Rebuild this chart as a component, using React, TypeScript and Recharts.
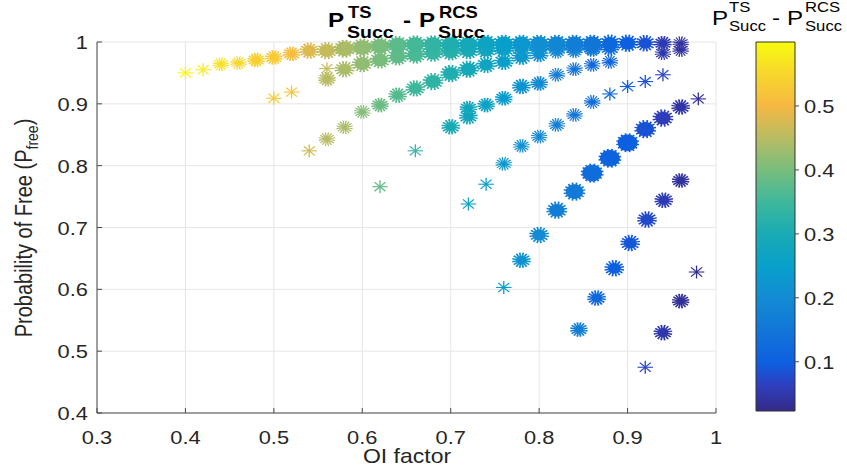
import React from 'react';
import { ScatterChart, Scatter, XAxis, YAxis, CartesianGrid, BarChart, Bar } from 'recharts';

// [OI factor, P_free, P_succ(TS) - P_succ(RCS), overlapping samples]
type Pt = [number, number, number, number];

const xTicks = [0.3, 0.4, 0.5, 0.6, 0.7, 0.8, 0.9, 1];
const yTicks = [0.4, 0.5, 0.6, 0.7, 0.8, 0.9, 1];
const cbTicks = [0.1, 0.2, 0.3, 0.4, 0.5];
const cbRange: [number, number] = [0.023, 0.6];

const rowA: Pt[] = [
  [0.40, 0.950, 0.595, 1], [0.42, 0.955, 0.58, 1], [0.44, 0.964, 0.565, 2], [0.46, 0.966, 0.55, 2],
  [0.48, 0.971, 0.54, 3], [0.50, 0.975, 0.53, 3], [0.52, 0.981, 0.51, 3], [0.54, 0.986, 0.48, 5],
  [0.56, 0.986, 0.46, 6], [0.58, 0.989, 0.44, 7], [0.60, 0.991, 0.42, 7], [0.62, 0.993, 0.40, 7],
  [0.64, 0.995, 0.375, 7], [0.66, 0.996, 0.355, 7], [0.68, 0.996, 0.335, 7], [0.70, 0.996, 0.31, 7],
  [0.72, 0.996, 0.29, 7], [0.74, 0.997, 0.27, 7], [0.76, 0.997, 0.25, 7], [0.78, 0.997, 0.23, 7],
  [0.80, 0.997, 0.21, 7], [0.82, 0.997, 0.19, 7], [0.84, 0.997, 0.17, 7], [0.86, 0.997, 0.15, 7],
  [0.88, 0.998, 0.12, 6], [0.90, 0.998, 0.10, 6], [0.92, 0.998, 0.085, 5], [0.94, 0.998, 0.055, 3],
  [0.96, 0.998, 0.04, 2],
];

const rowB: Pt[] = [
  [0.50, 0.909, 0.53, 1], [0.52, 0.919, 0.52, 1], [0.56, 0.957, 0.46, 1], [0.56, 0.940, 0.45, 3],
  [0.58, 0.956, 0.44, 5], [0.60, 0.965, 0.42, 6], [0.62, 0.971, 0.40, 6], [0.64, 0.976, 0.38, 6],
  [0.66, 0.979, 0.36, 6], [0.68, 0.982, 0.34, 6], [0.70, 0.984, 0.32, 6], [0.72, 0.986, 0.30, 6],
  [0.74, 0.987, 0.28, 6], [0.76, 0.988, 0.26, 6], [0.78, 0.989, 0.24, 5], [0.80, 0.990, 0.22, 4],
  [0.82, 0.990, 0.20, 4], [0.84, 0.990, 0.18, 4], [0.86, 0.990, 0.16, 4], [0.88, 0.990, 0.13, 4],
  [0.94, 0.982, 0.05, 2], [0.96, 0.987, 0.04, 2],
];

const rowC: Pt[] = [
  [0.54, 0.824, 0.47, 1], [0.56, 0.843, 0.45, 2], [0.58, 0.862, 0.44, 2], [0.60, 0.887, 0.41, 2],
  [0.62, 0.898, 0.39, 3], [0.64, 0.914, 0.37, 4], [0.66, 0.925, 0.35, 5], [0.68, 0.936, 0.33, 6],
  [0.70, 0.949, 0.31, 6], [0.72, 0.956, 0.29, 6], [0.74, 0.963, 0.27, 5], [0.76, 0.968, 0.25, 5],
  [0.78, 0.976, 0.23, 5], [0.80, 0.980, 0.21, 4], [0.82, 0.984, 0.19, 2], [0.84, 0.985, 0.17, 2],
  [0.86, 0.987, 0.15, 2],
];

const rowD: Pt[] = [
  [0.62, 0.766, 0.38, 1], [0.66, 0.824, 0.34, 1], [0.70, 0.863, 0.30, 4], [0.72, 0.879, 0.28, 4],
  [0.72, 0.893, 0.28, 3], [0.74, 0.898, 0.26, 3], [0.76, 0.909, 0.24, 3], [0.78, 0.928, 0.22, 4],
  [0.80, 0.933, 0.20, 3], [0.82, 0.947, 0.17, 2], [0.84, 0.956, 0.14, 2], [0.86, 0.963, 0.12, 2],
  [0.88, 0.968, 0.11, 2],
];

const rowE: Pt[] = [
  [0.72, 0.738, 0.27, 1], [0.74, 0.770, 0.25, 1], [0.76, 0.803, 0.23, 2], [0.78, 0.832, 0.21, 2],
  [0.80, 0.847, 0.19, 2], [0.82, 0.866, 0.17, 2], [0.84, 0.882, 0.15, 2], [0.86, 0.903, 0.13, 2],
  [0.88, 0.916, 0.12, 1], [0.90, 0.928, 0.10, 1], [0.92, 0.936, 0.085, 1], [0.94, 0.947, 0.065, 1],
];

const rowF: Pt[] = [
  [0.76, 0.603, 0.25, 1], [0.78, 0.647, 0.22, 4], [0.80, 0.688, 0.20, 5], [0.82, 0.728, 0.17, 6],
  [0.84, 0.758, 0.16, 7], [0.86, 0.788, 0.13, 8], [0.88, 0.812, 0.11, 8], [0.90, 0.837, 0.10, 8],
  [0.92, 0.859, 0.085, 7], [0.94, 0.877, 0.06, 6], [0.96, 0.895, 0.045, 4], [0.98, 0.908, 0.035, 1],
];

const rowG: Pt[] = [
  [0.845, 0.535, 0.17, 3], [0.865, 0.586, 0.12, 4], [0.885, 0.634, 0.10, 5], [0.903, 0.675, 0.09, 5],
  [0.922, 0.713, 0.075, 5], [0.941, 0.744, 0.055, 4], [0.96, 0.776, 0.04, 3],
];

const rowH: Pt[] = [
  [0.92, 0.474, 0.07, 1], [0.94, 0.530, 0.05, 4], [0.96, 0.581, 0.035, 3], [0.978, 0.628, 0.03, 1],
];

const rows = [rowH, rowG, rowF, rowE, rowD, rowC, rowB, rowA];

// parula-like colormap, picked from the colorbar
const parulaStops: [number, string][] = [
  [0.0, '#352a87'], [0.07, '#2e3fbf'], [0.13, '#0d5fe0'], [0.22, '#1276d8'],
  [0.31, '#138cd3'], [0.39, '#089fcb'], [0.48, '#19abb5'], [0.566, '#3eb89b'],
  [0.653, '#78bd7d'], [0.74, '#b8bc63'], [0.827, '#f6b842'], [0.92, '#f7d92a'],
  [1.0, '#f9fb0e'],
];

const hex = (h: string) => [1, 3, 5].map((i) => parseInt(h.slice(i, i + 2), 16));

function parula(v: number) {
  let t = (v - cbRange[0]) / (cbRange[1] - cbRange[0]);
  t = Math.max(0, Math.min(1, t));
  for (let i = 1; i < parulaStops.length; i++) {
    const [t1, c1] = parulaStops[i];
    if (t <= t1) {
      const [t0, c0] = parulaStops[i - 1];
      const f = (t - t0) / (t1 - t0);
      const a = hex(c0);
      const b = hex(c1);
      const m = a.map((x, k) => Math.round(x + (b[k] - x) * f));
      return `rgb(${m[0]},${m[1]},${m[2]})`;
    }
  }
  return parulaStops[parulaStops.length - 1][1];
}

const SX = 1.15; // the figure is slightly stretched horizontally
const FONT = '"Liberation Sans", Arial, Helvetica, sans-serif';
const fmt = (v: number) => String(+v.toFixed(1));

const Asterisk = (props: any) => {
  const { cx, cy, payload } = props;
  if (cx == null || cy == null) return null;
  const n = payload.n;
  const col = parula(payload.c);
  const r = 6 + n * 0.45;
  const spokes = n === 1 ? 4 : 8;
  const lines = [];
  for (let i = 0; i < spokes; i++) {
    const a = (Math.PI * i) / spokes + (n > 1 ? 0.2 : 0);
    const dx = r * Math.cos(a);
    const dy = r * Math.sin(a);
    lines.push(<line key={i} x1={-dx} y1={-dy} x2={dx} y2={dy} />);
  }
  const body = n >= 3 ? n + 0.3 : 0;
  return (
    <g transform={`translate(${cx},${cy}) scale(1.2,1)`} stroke={col} strokeWidth={n >= 3 ? 1.5 : 1.1} fill={col}>
      {body > 0 && <circle r={body} stroke="none" />}
      {lines}
    </g>
  );
};

const XTick = (props: any) => {
  const { x, y, payload } = props;
  return (
    <g>
      <line x1={x} y1={y} x2={x} y2={y - 5} stroke="#4a4a4a" />
      <text transform={`translate(${x},${y + 31}) scale(${SX},1)`} textAnchor="middle" fontSize={19} fill="#262626" fontFamily={FONT}>
        {fmt(payload.value)}
      </text>
    </g>
  );
};

const YTick = (props: any) => {
  const { x, y, payload } = props;
  return (
    <g>
      <line x1={x} y1={y} x2={x + 5} y2={y} stroke="#4a4a4a" />
      <text transform={`translate(${x - 9},${y + 7}) scale(${SX},1)`} textAnchor="end" fontSize={19} fill="#262626" fontFamily={FONT}>
        {fmt(payload.value)}
      </text>
    </g>
  );
};

const CbTick = (props: any) => {
  const { x, y, payload } = props;
  return (
    <g>
      <line x1={x} y1={y} x2={x + 4} y2={y} stroke="#4a4a4a" />
      <text transform={`translate(${x + 9},${y + 7}) scale(${SX},1)`} textAnchor="start" fontSize={19} fill="#262626" fontFamily={FONT}>
        {fmt(payload.value)}
      </text>
    </g>
  );
};

const T = ({ x, y, size, bold, children }: any) => (
  <text transform={`translate(${x},${y}) scale(${SX},1)`} fontSize={size} fontWeight={bold ? 'bold' : 'normal'} fill="#000" fontFamily={FONT}>
    {children}
  </text>
);

export default function App() {
  return (
    <div style={{ position: 'absolute', left: 0, top: 0, width: 847, height: 476, background: '#fff' }}>
      <ScatterChart width={847} height={476} margin={{ top: 42, right: 131, bottom: 0, left: 0 }}>
        <CartesianGrid stroke="#e6e6e6" strokeWidth={1} />
        <XAxis
          type="number"
          dataKey="x"
          domain={[0.3, 1]}
          ticks={xTicks}
          interval={0}
          height={63}
          tickSize={0}
          tickMargin={0}
          axisLine={{ stroke: '#4a4a4a' }}
          tickLine={false}
          tick={<XTick />}
        />
        <YAxis
          type="number"
          dataKey="y"
          domain={[0.4, 1]}
          ticks={yTicks}
          interval={0}
          width={97}
          tickSize={0}
          tickMargin={0}
          axisLine={{ stroke: '#4a4a4a' }}
          tickLine={false}
          tick={<YTick />}
        />
        {rows.map((row, i) => (
          <Scatter
            key={i}
            data={row.map(([x, y, c, n]) => ({ x, y, c, n }))}
            shape={<Asterisk />}
            isAnimationActive={false}
          />
        ))}
      </ScatterChart>

      <div style={{ position: 'absolute', left: 740, top: 0 }}>
        <BarChart
          width={107}
          height={476}
          data={[{ k: 'cb', v: cbRange }]}
          margin={{ top: 42, right: 0, bottom: 65, left: 16 }}
          barCategoryGap={0}
        >
          <defs>
            <linearGradient id="parulaGrad" x1="0" y1="1" x2="0" y2="0">
              {parulaStops.map(([t, c]) => (
                <stop key={t} offset={`${t * 100}%`} stopColor={c} />
              ))}
            </linearGradient>
          </defs>
          <XAxis dataKey="k" hide />
          <YAxis
            orientation="right"
            type="number"
            domain={cbRange}
            ticks={cbTicks}
            interval={0}
            width={52}
            tickSize={0}
            tickMargin={0}
            axisLine={false}
            tickLine={false}
            tick={<CbTick />}
          />
          <Bar dataKey="v" fill="url(#parulaGrad)" stroke="#333" strokeWidth={1} isAnimationActive={false} />
        </BarChart>
      </div>

      <svg width={847} height={476} style={{ position: 'absolute', left: 0, top: 0, pointerEvents: 'none' }}>
        {/* main title */}
        <T x={328} y={27} size={21} bold>P</T>
        <T x={348} y={18} size={16} bold>TS</T>
        <T x={347} y={38} size={17} bold>Succ</T>
        <T x={403} y={27} size={21} bold>-</T>
        <T x={419} y={27} size={21} bold>P</T>
        <T x={439} y={18} size={16} bold>RCS</T>
        <T x={438} y={38} size={17} bold>Succ</T>

        {/* colorbar title */}
        <T x={712} y={25} size={21}>P</T>
        <T x={729} y={12} size={14.5}>TS</T>
        <T x={729} y={31} size={14.5}>Succ</T>
        <T x={772} y={25} size={21}>-</T>
        <T x={787} y={25} size={21}>P</T>
        <T x={805} y={12} size={14.5}>RCS</T>
        <T x={805} y={31} size={14.5}>Succ</T>

        {/* axis labels */}
        <text transform={`translate(407,463) scale(${SX},1)`} textAnchor="middle" fontSize={20} fill="#262626" fontFamily={FONT}>
          OI factor
        </text>
        <text transform={`translate(32,228) scale(${SX},1) rotate(-90)`} textAnchor="middle" fontSize={20} fill="#262626" fontFamily={FONT}>
          Probability of Free (P
          <tspan fontSize={14} dy={5}>free</tspan>
          <tspan dy={-5}>)</tspan>
        </text>
      </svg>
    </div>
  );
}
